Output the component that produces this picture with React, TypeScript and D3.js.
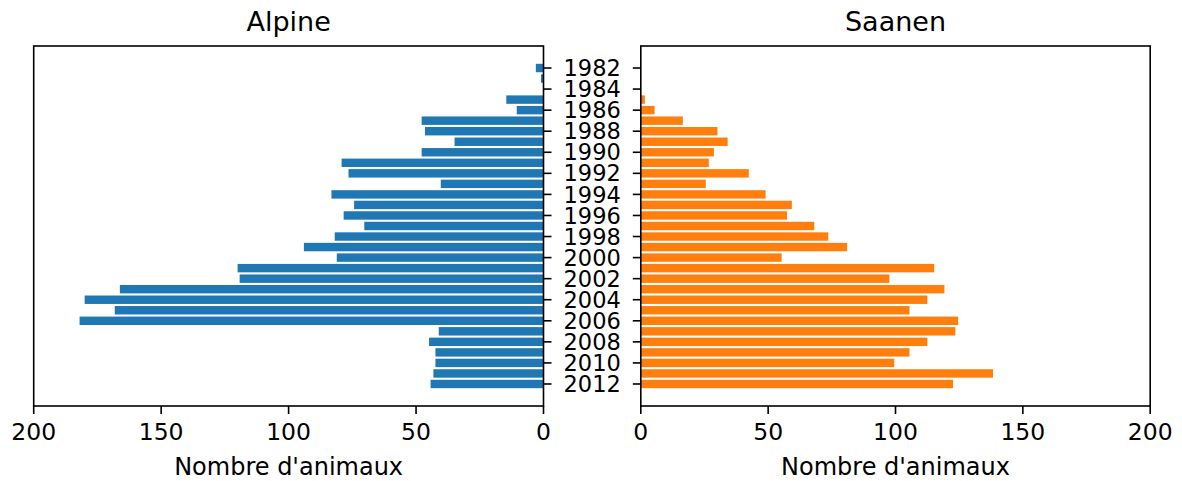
import React from "react";
import * as d3 from "d3";

const years: number[] = d3.range(1982, 2013);
const alpineValues: number[] = [
  3, 1, 0, 14.6, 10.5, 47.8, 46.5, 34.9, 47.8, 79.2, 76.5, 40.3, 83.2, 74.3, 78.4, 70.3,
  81.9, 94.0, 81.1, 120, 119.2, 166.2, 180, 168.2, 182, 41.1, 44.9, 42.4, 42.4, 43.2, 44.3,
];
const saanenValues: number[] = [
  0, 0, 0, 1.6, 5.4, 16.5, 30.1, 34.1, 28.7, 26.7, 42.4, 25.5, 49, 59.3, 57.4, 68.1,
  73.6, 81, 55.3, 115.2, 97.6, 119.2, 112.5, 105.5, 124.6, 123.5, 112.5, 105.5, 99.5, 138.3, 122.6,
];
const xTicks: number[] = [0, 50, 100, 150, 200];
const yTickYears: number[] = d3.range(1982, 2013, 2);
const titles: string[] = ["Alpine", "Saanen"];
const xLabel = "Nombre d'animaux";

const W = 1182;
const H = 481;
const TOP = 46;
const BOTTOM = 406;
const LEFT_X0 = 33.7;
const LEFT_X1 = 543.5;
const RIGHT_X0 = 640.8;
const RIGHT_X1 = 1150.2;
const FONT = "DejaVu Sans, sans-serif";
const TICK = 8;

export default function App() {
  const y = d3.scaleLinear().domain([1979.91, 2014.09]).range([TOP, BOTTOM]);
  const xl = d3.scaleLinear().domain([200, 0]).range([LEFT_X0, LEFT_X1]);
  const xr = d3.scaleLinear().domain([0, 200]).range([RIGHT_X0, RIGHT_X1]);
  const barH = y(0.8) - y(0);

  return (
    <svg
      width={W}
      height={H}
      style={{ position: "absolute", left: 0, top: 0, background: "#fff" }}
      fontFamily={FONT}
    >
      {years.map((yr, i) =>
        alpineValues[i] > 0 ? (
          <rect
            key={"a" + yr}
            x={xl(alpineValues[i])}
            y={y(yr - 0.4)}
            width={xl(0) - xl(alpineValues[i])}
            height={barH}
            fill="#1f77b4"
          />
        ) : null
      )}
      {years.map((yr, i) =>
        saanenValues[i] > 0 ? (
          <rect
            key={"s" + yr}
            x={xr(0)}
            y={y(yr - 0.4)}
            width={xr(saanenValues[i]) - xr(0)}
            height={barH}
            fill="#ff7f0e"
          />
        ) : null
      )}
      <rect x={LEFT_X0} y={TOP} width={LEFT_X1 - LEFT_X0} height={BOTTOM - TOP} fill="none" stroke="#000" strokeWidth={1.6} />
      <rect x={RIGHT_X0} y={TOP} width={RIGHT_X1 - RIGHT_X0} height={BOTTOM - TOP} fill="none" stroke="#000" strokeWidth={1.6} />
      {yTickYears.map((yr) => (
        <g key={"yt" + yr}>
          <line x1={LEFT_X1} x2={LEFT_X1 + TICK} y1={y(yr)} y2={y(yr)} stroke="#000" strokeWidth={1.6} />
          <line x1={RIGHT_X0 - TICK} x2={RIGHT_X0} y1={y(yr)} y2={y(yr)} stroke="#000" strokeWidth={1.6} />
          <text x={(LEFT_X1 + RIGHT_X0) / 2} y={y(yr)} dy="0.36em" textAnchor="middle" fontSize={22.5} fill="#000">
            {yr}
          </text>
        </g>
      ))}
      {xTicks.map((t) => (
        <g key={"xl" + t}>
          <line x1={xl(t)} x2={xl(t)} y1={BOTTOM} y2={BOTTOM + TICK} stroke="#000" strokeWidth={1.6} />
          <text x={xl(t)} y={BOTTOM + TICK + 8} dy="0.76em" textAnchor="middle" fontSize={23.5} fill="#000">
            {t}
          </text>
          <line x1={xr(t)} x2={xr(t)} y1={BOTTOM} y2={BOTTOM + TICK} stroke="#000" strokeWidth={1.6} />
          <text x={xr(t)} y={BOTTOM + TICK + 8} dy="0.76em" textAnchor="middle" fontSize={23.5} fill="#000">
            {t}
          </text>
        </g>
      ))}
      <text x={(LEFT_X0 + LEFT_X1) / 2} y={475} textAnchor="middle" fontSize={24} fill="#000">
        {xLabel}
      </text>
      <text x={(RIGHT_X0 + RIGHT_X1) / 2} y={475} textAnchor="middle" fontSize={24} fill="#000">
        {xLabel}
      </text>
      <text x={(LEFT_X0 + LEFT_X1) / 2} y={31} textAnchor="middle" fontSize={27} fill="#000">
        {titles[0]}
      </text>
      <text x={(RIGHT_X0 + RIGHT_X1) / 2} y={31} textAnchor="middle" fontSize={27} fill="#000">
        {titles[1]}
      </text>
    </svg>
  );
}
